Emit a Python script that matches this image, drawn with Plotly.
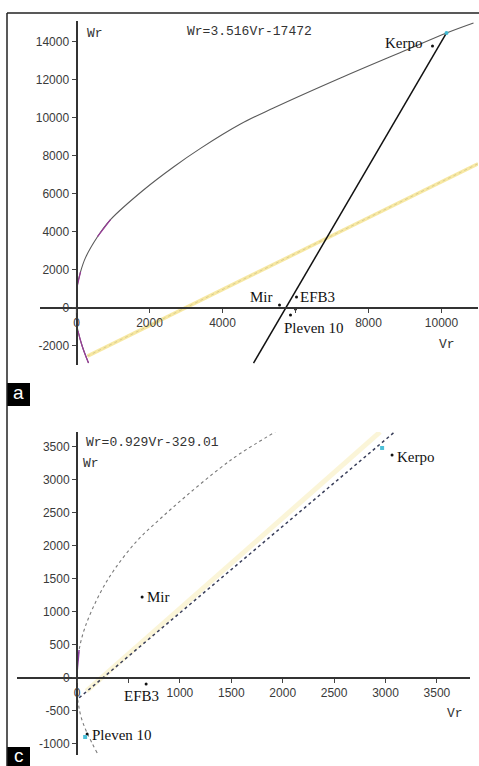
import plotly.graph_objects as go

W, H = 479, 766

def px(x):
    return x / W

def py(y):
    return 1 - y / H

# ---------------- Panel a data ----------------
a_par_vr = [329, 164, 40, 5, 0, 20, 110, 247, 575, 932, 1836, 2658, 3397, 4493, 5397, 7233, 9068, 10137, 10877]
a_par_wr = [-2895, -2053, -1200, -789, 150, 1150, 1900, 2650, 3750, 4650, 6210, 7421, 8400, 9680, 10520, 12100, 13600, 14474, 15000]
a_pur1_vr = [329, 164, 40]
a_pur1_wr = [-2895, -2053, -1200]
a_pur2_vr = [20, 110]
a_pur2_wr = [1150, 1900]
a_pur3_vr = [575, 932]
a_pur3_wr = [3750, 4650]
a_line_vr = [4850, 10137]
a_line_wr = [-2900, 14474]
a_yel_vr = [300, 11000]
a_yel_wr = [-2530, 7590]
a_names = ["Kerpo", "Mir", "EFB3", "Pleven 10"]
a_pt_vr = [9753, 5562, 6027, 5863]
a_pt_wr = [13789, 158, 579, -368]
a_extra_vr = [6000]
a_extra_wr = [-50]
a_cyan_vr = [10137]
a_cyan_wr = [14474]
a_xticks = [0, 2000, 4000, 6000, 8000, 10000]
a_xtext = ["0", "2000", "4000", "", "8000", "10000"]
a_yticks = [-2000, 0, 2000, 4000, 6000, 8000, 10000, 12000, 14000]
a_ytext = ["-2000", "0", "2000", "4000", "6000", "8000", "10000", "12000", "14000"]
a_eq = "Wr=3.516Vr-17472"

# ---------------- Panel c data ----------------
c_par_vr = [195, 97, 40, 15, 0, 0, 19, 78, 224, 370, 584, 807, 1070, 1391, 1586, 1926]
c_par_wr = [-1136, -833, -600, -420, -250, 100, 424, 773, 1288, 1660, 2080, 2410, 2770, 3180, 3400, 3727]
c_pur_vr = [0, 19]
c_pur_wr = [100, 424]
c_dot_vr = [20, 3090]
c_dot_wr = [-300, 3730]
c_yel_vr = [90, 2947]
c_yel_wr = [-200, 3727]
c_names = ["Kerpo", "Mir", "EFB3", "Pleven 10"]
c_pt_vr = [3064, 632, 671, 97]
c_pt_wr = [3379, 1227, -91, -848]
c_cyan_vr = [2967, 78]
c_cyan_wr = [3485, -894]
c_xticks = [0, 500, 1000, 1500, 2000, 2500, 3000, 3500]
c_xtext = ["0", "", "1000", "1500", "2000", "2500", "3000", "3500"]
c_yticks = [-1000, -500, 0, 500, 1000, 1500, 2000, 2500, 3000, 3500]
c_ytext = ["-1000", "-500", "0", "500", "1000", "1500", "2000", "2500", "3000", "3500"]
c_eq = "Wr=0.929Vr-329.01"

fig = go.Figure()

def line(xs, ys, color, width, dash="solid", ax="", shape="linear"):
    fig.add_trace(go.Scatter(x=xs, y=ys, mode="lines",
                             line=dict(color=color, width=width, dash=dash, shape=shape, smoothing=1.0),
                             xaxis="x" + ax, yaxis="y" + ax, showlegend=False, hoverinfo="skip"))

def pts(xs, ys, color, size, ax="", symbol="circle"):
    fig.add_trace(go.Scatter(x=xs, y=ys, mode="markers", marker=dict(color=color, size=size, symbol=symbol),
                             xaxis="x" + ax, yaxis="y" + ax, showlegend=False, hoverinfo="skip"))

# Panel a
line(a_yel_vr, a_yel_wr, "rgba(245,226,140,0.8)", 3.5)
line(a_yel_vr, a_yel_wr, "rgba(170,160,110,0.4)", 1, "dot")
line(a_par_vr, a_par_wr, "#5a5a5a", 1.1, shape="spline")
line(a_pur1_vr, a_pur1_wr, "#9a3a9a", 1.2, shape="spline")
line(a_pur2_vr, a_pur2_wr, "#9a3a9a", 1.2)
line(a_pur3_vr, a_pur3_wr, "#9a3a9a", 1.2)
line(a_line_vr, a_line_wr, "#111111", 1.5)
pts(a_pt_vr, a_pt_wr, "#111111", 3)
pts(a_extra_vr, a_extra_wr, "#111111", 3)
pts(a_cyan_vr, a_cyan_wr, "#3fb8d0", 4)

# Panel c
line(c_yel_vr, c_yel_wr, "rgba(248,238,190,0.6)", 5, ax="2")
line(c_par_vr, c_par_wr, "#7a7a7a", 1.1, "dot", ax="2", shape="spline")
line(c_pur_vr, c_pur_wr, "#8a3aa0", 1.5, ax="2")
line(c_dot_vr, c_dot_wr, "#3a3f5a", 1.5, "dot", ax="2")
pts(c_pt_vr, c_pt_wr, "#111111", 3, ax="2")
pts(c_cyan_vr, c_cyan_wr, "#4cc0d8", 4, ax="2", symbol="square")

tickfont = dict(family="Liberation Sans, Arial, sans-serif", size=12, color="#3a3a3a")
axcommon = dict(showgrid=False, zeroline=False, showline=True, linecolor="#333333", linewidth=2,
                ticks="outside", ticklen=4, tickcolor="#444444", tickwidth=1, tickfont=tickfont,
                fixedrange=True)

fig.update_layout(
    width=W, height=H, margin=dict(l=0, r=0, t=0, b=0),
    paper_bgcolor="white", plot_bgcolor="white",
    xaxis=dict(domain=[px(40), px(478)], range=[-1000, 11000], anchor="free", position=py(308),
               tickvals=a_xticks, ticktext=a_xtext, **axcommon),
    yaxis=dict(domain=[py(365), py(21)], range=[-3000, 15100], anchor="free", position=px(76.5),
               tickvals=a_yticks, ticktext=a_ytext, **axcommon),
    xaxis2=dict(domain=[px(17), px(470)], range=[-585, 3822], anchor="free", position=py(678),
                tickvals=c_xticks, ticktext=c_xtext, **axcommon),
    yaxis2=dict(domain=[py(755), py(432)], range=[-1167, 3727], anchor="free", position=px(77),
                tickvals=c_yticks, ticktext=c_ytext, **axcommon),
)

mono = dict(family="Liberation Mono, Courier New, monospace", size=13, color="#333333")
serif = dict(family="Liberation Serif, Times New Roman, serif", size=15, color="#111111")

ann = []
def paper_text(x, y, text, font, xanchor="center"):
    ann.append(dict(x=px(x), y=py(y), xref="paper", yref="paper", text=text, showarrow=False,
                    font=font, xanchor=xanchor, yanchor="middle"))

paper_text(95, 33, "Wr", mono)
paper_text(185, 32, a_eq, mono, "left")
paper_text(447, 344, "Vr", mono)
paper_text(91, 463, "Wr", mono)
paper_text(84, 442, c_eq, mono, "left")
paper_text(455, 713, "Vr", mono)

def pt_label(x, y, text, ax, xanchor, xshift, yshift):
    ann.append(dict(x=x, y=y, xref="x" + ax, yref="y" + ax, text=text, showarrow=False, font=serif,
                    xanchor=xanchor, yanchor="middle", xshift=xshift, yshift=yshift))

a_offsets = [("right", -7, 3), ("right", -5, 8), ("left", 2, 0), ("left", -9, -13)]
for n, x, y, (xa, xs, ys) in zip(a_names, a_pt_vr, a_pt_wr, a_offsets):
    pt_label(x, y, n, "", xa, xs, ys)
c_offsets = [("left", 3, -2), ("left", 3, 0), ("center", -5, -12), ("left", 3, -1)]
for n, x, y, (xa, xs, ys) in zip(c_names, c_pt_vr, c_pt_wr, c_offsets):
    pt_label(x, y, n, "2", xa, xs, ys)

# panel letters
lab_font = dict(family="Liberation Sans, Arial, sans-serif", size=19, color="white")
paper_text(18.5, 393, "a", lab_font)
paper_text(18.5, 755, "c", lab_font)

fig.update_layout(annotations=ann)

shapes = [
    dict(type="line", xref="paper", yref="paper", x0=px(7), x1=1, y0=py(13), y1=py(13),
         line=dict(color="#222222", width=1.5)),
    dict(type="line", xref="paper", yref="paper", x0=px(7), x1=px(7), y0=py(13), y1=0,
         line=dict(color="#222222", width=1.5)),
    dict(type="rect", xref="paper", yref="paper", x0=px(7), x1=px(30), y0=py(406), y1=py(383),
         fillcolor="black", line=dict(width=0), layer="below"),
    dict(type="rect", xref="paper", yref="paper", x0=px(7), x1=px(30), y0=0, y1=py(747),
         fillcolor="black", line=dict(width=0), layer="below"),
]
fig.update_layout(shapes=shapes)

fig.write_html("out.html")
